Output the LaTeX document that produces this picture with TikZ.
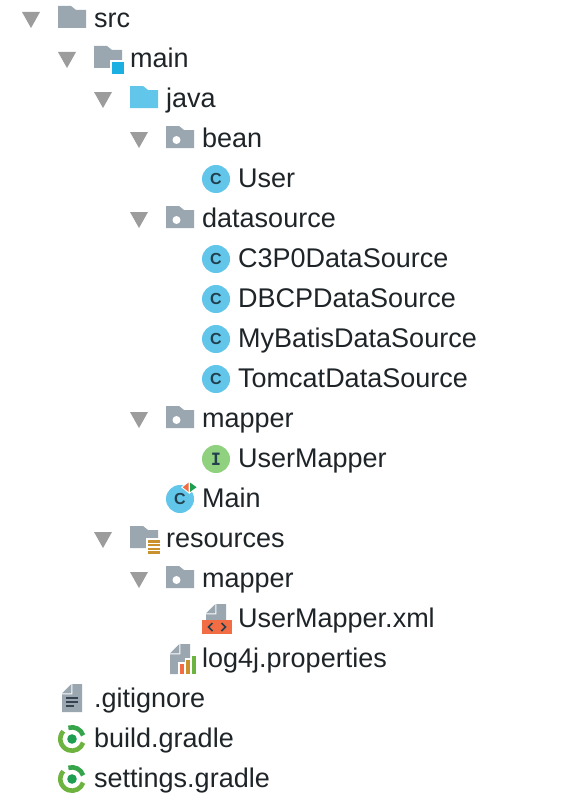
\documentclass[tikz,border=0pt]{standalone}
\usepackage{fontspec}
\setmainfont{Liberation Sans}
\newfontfamily\slabfont{DejaVu Sans Mono}
\definecolor{foldergray}{HTML}{9AA7B0}
\definecolor{javablue}{HTML}{62C6EA}
\definecolor{arrowgray}{HTML}{9C9C9C}
\definecolor{classblue}{HTML}{62C6EA}
\definecolor{ifacegreen}{HTML}{8FD17F}
\definecolor{inkdark}{HTML}{1E2428}
\definecolor{letterdark}{HTML}{23404F}
\definecolor{squareblue}{HTML}{1CB0E2}
\definecolor{barsgold}{HTML}{C9922E}
\definecolor{xmlred}{HTML}{F26C44}
\definecolor{gradlelight}{HTML}{6DB33F}
\definecolor{gradledark}{HTML}{1E9E50}
\definecolor{linesdark}{HTML}{34434D}
\tikzset{
  x=1pt,y=-1pt,
  label text/.style={inner sep=0pt,anchor=base west,text=inkdark,font=\fontsize{27}{27}\selectfont},
  badge letter/.style={inner sep=0pt,text=letterdark,font=\fontsize{16}{16}\selectfont\bfseries},
  pics/disclosure/.style={code={\fill[arrowgray] (-9,-7)--(9,-7)--(0,9)--cycle;}},
  pics/foldericon/.style={code={\fill[#1] (0,-13)--(13,-13)--(18,-9)--(28,-9)--(28,9)--(0,9)--cycle;}},
  pics/packageicon/.style={code={
    \fill[foldergray] (0,-13)--(13,-13)--(18,-9)--(28,-9)--(28,9)--(0,9)--cycle;
    \fill[white] (10.5,1) circle[radius=4];}},
  pics/classicon/.style={code={\fill[classblue] (0,0) circle[radius=14];}},
  pics/fileicon/.style={code={
    \fill[foldergray] (10.3,-15)--(20,-15)--(20,#1)--(0,#1)--(0,-4.7)--(10.3,-4.7)--cycle;
    \fill[foldergray] (9.3,-14.8)--(9.3,-5.7)--(0,-5.7)--cycle;}},
  pics/gradleicon/.style={code={
    \fill[gradledark] (0,0) circle[radius=4.8];
    \draw[gradledark!70!gradlelight,line width=4.6pt] (-18:11.7) arc[start angle=-18,end angle=-108,radius=11.7];
    \draw[gradlelight,line width=4.6pt] (18:11.7) arc[start angle=18,end angle=222,radius=11.7];
    }},
}
\newcommand{\rowlabel}[4]{\node[label text] (#1) at (#2,#3+8.5) {#4};}
\begin{document}
\begin{tikzpicture}
\useasboundingbox (0,0) rectangle (566,800);
\fill[white] (0,0) rectangle (566,800);
% disclosure triangles
\pic at (31,19) {disclosure};
\pic at (67,59) {disclosure};
\pic at (103,99) {disclosure};
\pic at (139,139) {disclosure};
\pic at (139,219) {disclosure};
\pic at (139,419) {disclosure};
\pic at (103,539) {disclosure};
\pic at (139,579) {disclosure};
% folders
\pic at (58,19) {foldericon=foldergray};
\pic at (94,59) {foldericon=foldergray};
\fill[white] (110,60) rectangle (126,76);
\fill[squareblue] (112,62) rectangle (124,74);
\pic at (130,99) {foldericon=javablue};
\pic at (166,139) {packageicon};
\pic at (166,219) {packageicon};
\pic at (166,419) {packageicon};
\pic at (130,539) {foldericon=foldergray};
\fill[white] (146,538) rectangle (162,556);
\foreach \yy in {540,543.8,547.6,551.4}{\fill[barsgold] (148,\yy) rectangle (160,\yy+2.5);}
\pic at (166,579) {packageicon};
% classes
\foreach \nm/\yy in {user/179,cthree/259,dbcp/299,mybatis/339,tomcat/379}{
  \pic at (216,\yy) {classicon};
  \node[badge letter] (\nm-c) at (216,\yy) {C};
}
\fill[ifacegreen] (216,459) circle[radius=14];
\node[badge letter,font=\fontsize{17}{17}\slabfont\bfseries] (iface-i) at (216,459) {I};
\pic at (180,499) {classicon};
\node[badge letter] (main-c) at (180,499) {C};
\filldraw[draw=white,fill=white,line width=2pt] (188.7,482.5)--(188.7,492)--(182.7,487.2)--cycle;
\filldraw[draw=white,fill=white,line width=2pt] (190,482.5)--(190,492)--(196.5,487.2)--cycle;
\fill[xmlred] (188.7,482.5)--(188.7,492)--(182.7,487.2)--cycle;
\fill[gradledark] (190,482.5)--(190,492)--(196.5,487.2)--cycle;
% xml file
\pic at (206,619) {fileicon=1};
\fill[xmlred] (202,620) rectangle (232,634);
\draw[letterdark,line width=1.6pt] (212.5,623)--(208.5,627)--(212.5,631);
\draw[letterdark,line width=1.6pt] (221.5,623)--(225.5,627)--(221.5,631);
% properties
\pic at (170,659) {fileicon=15};
\fill[white] (178,676)--(178,662)--(185,662)--(185,658)--(191,658)--(191,654)--(198,654)--(198,676)--cycle;
\fill[xmlred] (180,664) rectangle (184,674);
\fill[barsgold] (186,660) rectangle (190,674);
\fill[gradlelight] (192,656) rectangle (196,674);
% gitignore
\pic at (62,699) {fileicon=13};
\fill[linesdark] (66,697) rectangle (78,699);
\fill[linesdark] (66,701) rectangle (78,703);
\fill[linesdark] (66,705) rectangle (74,707);
% gradle
\pic at (72,739) {gradleicon};
\pic at (72,779) {gradleicon};
% labels
\rowlabel{src}{94}{19}{src}
\rowlabel{main}{130}{59}{main}
\rowlabel{java}{166}{99}{java}
\rowlabel{bean}{202}{139}{bean}
\rowlabel{User}{238}{179}{User}
\rowlabel{datasource}{202}{219}{datasource}
\rowlabel{C3P0}{238}{259}{C3P0DataSource}
\rowlabel{DBCP}{238}{299}{DBCPDataSource}
\rowlabel{MyBatis}{238}{339}{MyBatisDataSource}
\rowlabel{Tomcat}{238}{379}{TomcatDataSource}
\rowlabel{mapperA}{202}{419}{mapper}
\rowlabel{UserMapper}{238}{459}{UserMapper}
\rowlabel{Main}{202}{499}{Main}
\rowlabel{resources}{166}{539}{resources}
\rowlabel{mapperB}{202}{579}{mapper}
\rowlabel{xml}{238}{619}{UserMapper.xml}
\rowlabel{log}{202}{659}{log4j.properties}
\rowlabel{gitignore}{94}{699}{.gitignore}
\rowlabel{build}{94}{739}{build.gradle}
\rowlabel{settings}{94}{779}{settings.gradle}
\end{tikzpicture}
\end{document}
